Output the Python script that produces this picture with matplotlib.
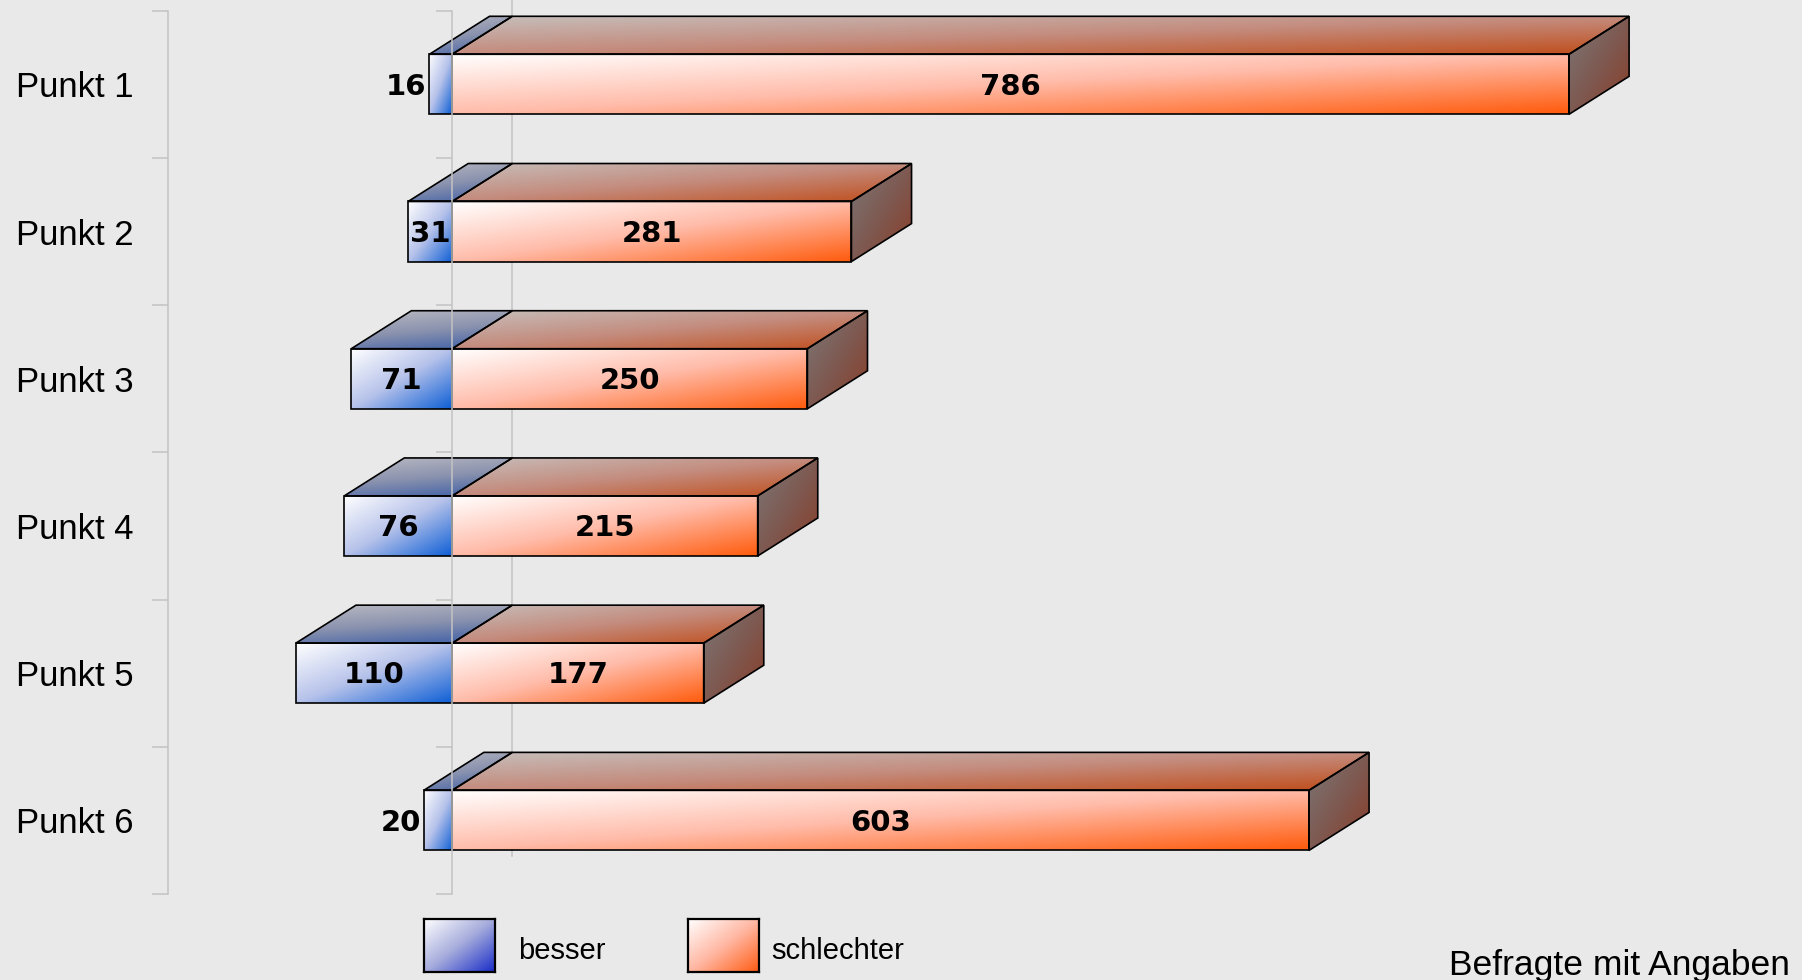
import numpy as np
import matplotlib.pyplot as plt
from matplotlib.colors import LinearSegmentedColormap
from matplotlib.patches import Polygon

plt.rcParams['font.family'] = ['Liberation Sans', 'DejaVu Sans']

# Daten
kategorien = ['Punkt 1', 'Punkt 2', 'Punkt 3', 'Punkt 4', 'Punkt 5', 'Punkt 6']
besser = [16, 31, 71, 76, 110, 20]
schlechter = [786, 281, 250, 215, 177, 603]
legende = ['besser', 'schlechter']
fussnote = 'Befragte mit Angaben'

BG = '#e9e9e9'
ACHSE = '#c3c3c3'
tiefe_x = 42.3    # 3D-Tiefe in x-Einheiten
tiefe_y = 0.258   # 3D-Tiefe in Kategorie-Einheiten
halb = 0.204      # halbe Balkenhoehe
WERT_FONT = dict(fontsize=21, fontweight='bold', family=['DejaVu Sans'], zorder=6)

# Farbverlaeufe
rot_front = LinearSegmentedColormap.from_list('rf', ['#ffffff', '#ffbcaa', '#ff5c0e'])
rot_oben = LinearSegmentedColormap.from_list('ro', ['#c6bebb', '#c48c7e', '#c04e1c'])
rot_seite = LinearSegmentedColormap.from_list('rs', ['#7c7878', '#7e5a52', '#8a3c26'])
blau_front = LinearSegmentedColormap.from_list('bf', ['#ffffff', '#b6c2ea', '#1060d6'])
blau_oben = LinearSegmentedColormap.from_list('bo', ['#babac2', '#8a92ae', '#3a5ca6'])
blau_leg = LinearSegmentedColormap.from_list('bl', ['#ffffff', '#a6acdc', '#1a2ec8'])
rot_leg = LinearSegmentedColormap.from_list('rl', ['#ffffff', '#ffb8a4', '#ff5c14'])


def verlauf(ax, cmap, x0, x1, y_oben, y_unten, wu=1.0, wv=1.0, clip=None, z=2):
    u = np.linspace(0, 1, 80)
    v = np.linspace(0, 1, 40)[:, None]
    t = (wu * u + wv * v) / (wu + wv)
    im = ax.imshow(t, cmap=cmap, vmin=0, vmax=1, extent=(x0, x1, y_unten, y_oben),
                   origin='upper', aspect='auto', interpolation='bilinear', zorder=z)
    if clip is not None:
        im.set_clip_path(clip)
    return im


def flaeche(ax, pts, cmap, wu, wv):
    poly = Polygon(pts, closed=True, facecolor='none', edgecolor='black', lw=1.2, zorder=3)
    ax.add_patch(poly)
    xs = [p[0] for p in pts]
    ys = [p[1] for p in pts]
    verlauf(ax, cmap, min(xs), max(xs), min(ys), max(ys), wu, wv, clip=poly)


fig = plt.figure(figsize=(18.02, 9.80), dpi=100, facecolor=BG)
ax = fig.add_axes([168 / 1802, 86 / 980, 1634 / 1802, 883.3 / 980])
ax.set_facecolor(BG)

for i, (b, s) in enumerate(zip(besser, schlechter)):
    yo = i - halb
    yu = i + halb
    yh = yo - tiefe_y
    # Oberseiten
    flaeche(ax, [(-b, yo), (0, yo), (tiefe_x, yh), (-b + tiefe_x, yh)], blau_oben, 0.4, 1.0)
    flaeche(ax, [(0, yo), (s, yo), (s + tiefe_x, yh), (tiefe_x, yh)], rot_oben, 1.0, 1.0)
    # Seite
    flaeche(ax, [(s, yo), (s, yu), (s + tiefe_x, yu - tiefe_y), (s + tiefe_x, yh)], rot_seite, 1.0, 1.0)
    # Vorderseiten
    flaeche(ax, [(-b, yo), (0, yo), (0, yu), (-b, yu)], blau_front, 1.0, 1.0)
    flaeche(ax, [(0, yo), (s, yo), (s, yu), (0, yu)], rot_front, 1.0, 1.0)

    # Beschriftungen
    yt = i + 0.015
    ax.text(s / 2, yt, str(s), ha='center', va='center', **WERT_FONT)
    if b < 25:
        ax.text(-b - 2.0, yt, str(b), ha='right', va='center', **WERT_FONT)
    else:
        ax.text(-b / 2, yt, str(b), ha='center', va='center', **WERT_FONT)

# Null-Linien (vorne und hinten)
grenzen = np.arange(-0.5, len(kategorien), 1.0)
ax.plot([0, 0], [grenzen[0], grenzen[-1]], color=ACHSE, lw=1.1, zorder=5, clip_on=False)
ax.hlines(grenzen, -11.5, 0, color=ACHSE, lw=1.1, zorder=5, clip_on=False)
ax.plot([tiefe_x, tiefe_x], [grenzen[-1] - tiefe_y, -0.62], color=ACHSE, lw=1.1,
        zorder=1, clip_on=False)

ax.set_xlim(-200, 950)
ax.set_ylim(5.5, -0.5)

for sp in ['top', 'right', 'bottom']:
    ax.spines[sp].set_visible(False)
ax.spines['left'].set_color(ACHSE)
ax.spines['left'].set_linewidth(1.1)
ax.set_xticks([])
ax.set_yticks(range(len(kategorien)))
ax.set_yticklabels(kategorien, fontsize=25)
ax.tick_params(axis='y', which='major', length=0, pad=25)
ax.set_yticks(grenzen, minor=True)
ax.tick_params(axis='y', which='minor', length=11.5, width=1.1, color=ACHSE, direction='out')

# Legende
for links, cmap, txt, tx in [(424, blau_leg, legende[0], 518), (688, rot_leg, legende[1], 771)]:
    lax = fig.add_axes([links / 1802, 8 / 980, 71 / 1802, 53 / 980])
    u = np.linspace(0, 1, 40)
    v = np.linspace(0, 1, 40)[:, None]
    lax.imshow((u + v) / 2, cmap=cmap, vmin=0, vmax=1, aspect='auto', interpolation='bilinear')
    lax.set_xticks([])
    lax.set_yticks([])
    for sp in lax.spines.values():
        sp.set_linewidth(1.6)
        sp.set_color('black')
    fig.text(tx / 1802, 29 / 980, txt, ha='left', va='center', fontsize=21)

fig.text(1790 / 1802, 5 / 980, fussnote, ha='right', va='baseline', fontsize=25.5)

fig.savefig('out.png', dpi=100, facecolor=BG)
